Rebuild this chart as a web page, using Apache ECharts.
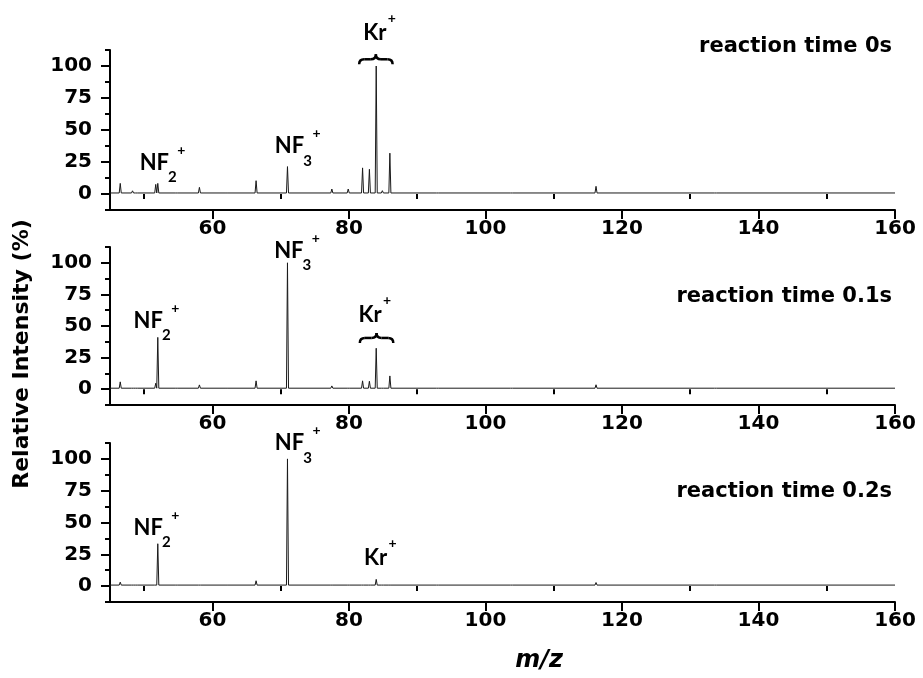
<!DOCTYPE html>
<html>
<head>
<meta charset="utf-8">
<script src="https://cdn.jsdelivr.net/npm/echarts@6/dist/echarts.min.js"></script>
<style>
  html, body { margin: 0; padding: 0; background: #fff; }
  #chart { width: 923px; height: 678px; }
</style>
</head>
<body>
<div id="chart"></div>
<script>
// Tick values for the m/z axis and the relative intensity axis
const xTickValues = [60, 80, 100, 120, 140, 160];
const xMinorTicks = [50, 70, 90, 110, 130, 150];
const yTickValues = [0, 25, 50, 75, 100];
const yMinorTicks = [-12.5, 12.5, 37.5, 62.5, 87.5, 112.5];

const panelTitles = ['reaction time 0s', 'reaction time 0.1s', 'reaction time 0.2s'];

// Peak positions (m/z) shared by the three spectra
const peakMz = [46.5, 48.3, 48.9, 51.7, 52.0, 54.7, 58.1, 62.0, 66.4, 71.0, 77.5, 79.9,
                82.0, 83.0, 84.0, 84.9, 86.0, 93.0, 103.8, 116.2, 133.7];

// Peak intensities (%) at each reaction time
const intensity0s  = [8.3, 2.5, 2.2, 7.5, 8.3, 2.0, 5.2, 1.8, 10.4, 21.4, 3.9, 3.9,
                      20.4, 19.3, 100, 2.6, 31.9, 1.6, 2.0, 6.0, 1.8];
const intensity01s = [5.8, 2.0, 2.0, 4.7, 41.0, 1.6, 3.4, 1.4, 6.6, 100, 2.6, 1.5,
                      6.6, 6.3, 32.4, 2.0, 10.5, 1.3, 1.6, 3.5, 1.4];
const intensity02s = [3.1, 1.6, 1.6, 1.5, 33.3, 1.3, 2.1, 1.2, 4.2, 100, 1.8, 1.2,
                      1.4, 1.4, 5.3, 1.2, 2.1, 1.2, 1.4, 2.8, 1.2];

const baselineLevel = 0.8;

const spectra = [intensity0s, intensity01s, intensity02s];

const AXIS_FONT = 'DejaVu Sans';
const LABEL_FONT = 'Lato';
const X_MIN = 45, X_MAX = 160, Y_MIN = -12.5, Y_MAX = 112.5;

// Turn a peak list into a profile line: baseline, narrow spike at each peak
function profile(mzList, heights) {
  const pts = [[X_MIN, baselineLevel]];
  const hw = 0.15;
  mzList.forEach((mz, i) => {
    pts.push([mz - hw, baselineLevel]);
    pts.push([mz, heights[i]]);
    pts.push([mz + hw, baselineLevel]);
  });
  pts.push([X_MAX, baselineLevel]);
  return pts;
}

const gridBoxes = [
  { left: 110, right: 28, top: 50, height: 160 },
  { left: 110, right: 28, top: 247, height: 158 },
  { left: 110, right: 28, top: 443, height: 159 }
];

const axisLabelStyle = {
  fontFamily: AXIS_FONT, fontWeight: 'bold', fontSize: 20, color: '#000'
};

const xAxes = [], yAxes = [], series = [];
gridBoxes.forEach((g, i) => {
  xAxes.push({
    gridIndex: i, type: 'value', min: X_MIN, max: X_MAX, position: 'bottom',
    axisLine: { show: true, onZero: false, lineStyle: { color: '#000', width: 2 } },
    axisTick: { show: true, customValues: xTickValues, length: 9, lineStyle: { color: '#000', width: 2 } },
    axisLabel: Object.assign({ customValues: xTickValues, margin: 9 }, axisLabelStyle),
    splitLine: { show: false }
  });
  xAxes.push({
    gridIndex: i, type: 'value', min: X_MIN, max: X_MAX, position: 'bottom', offset: 0,
    axisLine: { show: false },
    axisTick: { show: true, customValues: xMinorTicks, length: 5, lineStyle: { color: '#000', width: 2 } },
    axisLabel: { show: false },
    splitLine: { show: false }
  });
  yAxes.push({
    gridIndex: i, type: 'value', min: Y_MIN, max: Y_MAX, position: 'left',
    axisLine: { show: true, onZero: false, lineStyle: { color: '#000', width: 2 } },
    axisTick: { show: true, customValues: yTickValues, length: 9, lineStyle: { color: '#000', width: 2 } },
    axisLabel: Object.assign({ customValues: yTickValues, margin: 18 }, axisLabelStyle),
    splitLine: { show: false }
  });
  yAxes.push({
    gridIndex: i, type: 'value', min: Y_MIN, max: Y_MAX, position: 'left', offset: 0,
    axisLine: { show: false },
    axisTick: { show: true, customValues: yMinorTicks, length: 5, lineStyle: { color: '#000', width: 2 } },
    axisLabel: { show: false },
    splitLine: { show: false }
  });
  series.push({
    type: 'line',
    name: panelTitles[i],
    xAxisIndex: 2 * i,
    yAxisIndex: 2 * i,
    data: profile(peakMz, spectra[i]),
    showSymbol: false,
    lineStyle: { color: '#1a1a1a', width: 1 },
    silent: true
  });
});

const chart = echarts.init(document.getElementById('chart'), null, { renderer: 'canvas' });

chart.setOption({
  animation: false,
  backgroundColor: '#fff',
  title: panelTitles.map((t, i) => ({
    text: t,
    right: 31,
    top: [36, 286, 481][i],
    padding: 0,
    textStyle: { fontFamily: AXIS_FONT, fontWeight: 'bold', fontSize: 21, color: '#000' }
  })),
  grid: gridBoxes,
  xAxis: xAxes,
  yAxis: yAxes,
  series: series
});

// Ion labels: centre of the main text in data units of each panel
const ionLabels = [
  { panel: 0, text: 'NF', sub: '2', mz: 51.5, at: 24.6 },
  { panel: 0, text: 'NF', sub: '3', mz: 71.3, at: 37.7 },
  { panel: 0, text: 'Kr', sub: '',  mz: 83.8, at: 126.0 },
  { panel: 1, text: 'NF', sub: '3', mz: 71.2, at: 109.8 },
  { panel: 1, text: 'NF', sub: '2', mz: 50.6, at: 54.3 },
  { panel: 1, text: 'Kr', sub: '',  mz: 83.1, at: 58.9 },
  { panel: 2, text: 'NF', sub: '3', mz: 71.3, at: 112.6 },
  { panel: 2, text: 'NF', sub: '2', mz: 50.6, at: 46.1 },
  { panel: 2, text: 'Kr', sub: '',  mz: 83.9, at: 22.3 }
];

// Braces grouping the Kr isotopes: m/z span, tip and end heights
const braces = [
  { panel: 0, from: 81.5, to: 86.4, tip: 109.2, end: 101.3 },
  { panel: 1, from: 81.6, to: 86.5, tip: 44.5, end: 36.6 }
];

function textEl(x, y, text, size, family) {
  return {
    type: 'text', x: x, y: y, silent: true,
    style: {
      text: text,
      font: 'bold ' + size + 'px "' + family + '"',
      fill: '#000',
      align: 'center', verticalAlign: 'middle',
      textAlign: 'center', textVerticalAlign: 'middle'
    }
  };
}

const strokeStyle = { fill: 'none', stroke: '#000', lineWidth: 2.5 };

function curve(x1, y1, cx, cy, x2, y2) {
  return {
    type: 'bezierCurve', silent: true,
    shape: { x1: x1, y1: y1, cpx1: cx, cpy1: cy, x2: x2, y2: y2 },
    style: strokeStyle
  };
}

function segment(x1, y1, x2, y2) {
  return {
    type: 'line', silent: true,
    shape: { x1: x1, y1: y1, x2: x2, y2: y2 },
    style: strokeStyle
  };
}

const graphics = [];
ionLabels.forEach(l => {
  const p = chart.convertToPixel({ seriesIndex: l.panel }, [l.mz, l.at]);
  graphics.push(textEl(p[0], p[1], l.text, 22, LABEL_FONT));
  if (l.sub) {
    graphics.push(textEl(p[0] + 18, p[1] + 15, l.sub, 15, LABEL_FONT));
    graphics.push(textEl(p[0] + 27, p[1] - 12, '+', 14, LABEL_FONT));
  } else {
    graphics.push(textEl(p[0] + 17, p[1] - 14, '+', 14, LABEL_FONT));
  }
});

braces.forEach(b => {
  const a = chart.convertToPixel({ seriesIndex: b.panel }, [b.from, b.end]);
  const c = chart.convertToPixel({ seriesIndex: b.panel }, [b.to, b.end]);
  const t = chart.convertToPixel({ seriesIndex: b.panel }, [(b.from + b.to) / 2, b.tip]);
  const x1 = a[0], x2 = c[0], xc = t[0], yEnd = a[1], yTip = t[1];
  const h = yEnd - yTip, yMid = yTip + h / 2, r = h / 2;
  graphics.push(curve(x1, yEnd, x1, yMid, x1 + r, yMid));
  graphics.push(segment(x1 + r, yMid, xc - r, yMid));
  graphics.push(curve(xc - r, yMid, xc, yMid, xc, yTip));
  graphics.push(curve(xc, yTip, xc, yMid, xc + r, yMid));
  graphics.push(segment(xc + r, yMid, x2 - r, yMid));
  graphics.push(curve(x2 - r, yMid, x2, yMid, x2, yEnd));
});

// Axis titles
graphics.push({
  type: 'text', x: 22, y: 354, rotation: Math.PI / 2, silent: true,
  style: {
    text: 'Relative Intensity (%)',
    font: 'bold 22px "' + AXIS_FONT + '"', fill: '#000',
    align: 'center', verticalAlign: 'middle', textAlign: 'center', textVerticalAlign: 'middle'
  }
});
graphics.push({
  type: 'text', x: 539, y: 661, silent: true,
  style: {
    text: 'm/z',
    font: 'italic bold 24px "' + AXIS_FONT + '"', fill: '#000',
    align: 'center', verticalAlign: 'middle', textAlign: 'center', textVerticalAlign: 'middle'
  }
});

chart.setOption({ graphic: graphics });
</script>
</body>
</html>
